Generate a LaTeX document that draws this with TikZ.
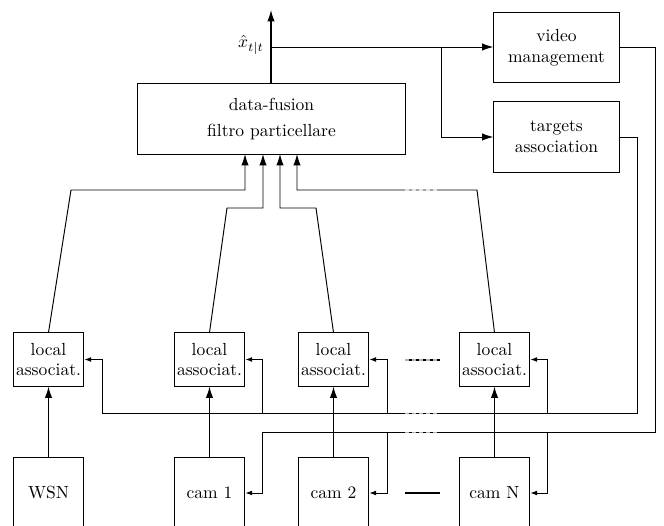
\documentclass[tikz,border=0pt]{standalone}
\usetikzlibrary{arrows.meta}
\begin{document}
\begin{tikzpicture}[x=0.571pt,y=-0.571pt,
  box/.style={draw,line width=0.55pt,inner sep=0pt,align=center,font=\fontsize{10}{12}\selectfont},
  bigbox/.style={box,minimum width=71.4pt,minimum height=40pt},
  fbox/.style={box,minimum width=152.5pt,minimum height=40pt},
  lbox/.style={box,minimum width=40.5pt,minimum height=30.3pt},
  sbox/.style={box,minimum width=40.5pt,minimum height=41.1pt},
  conn/.style={line width=0.55pt},
  bigarr/.style={line width=0.7pt,-{Latex[length=6.5pt,width=4.2pt]}},
  upin/.style={line width=0.55pt,-{Latex[length=6.5pt,width=4.2pt]}},
  smallarr/.style={line width=0.55pt,-{Latex[length=3.8pt,width=2.8pt]}},
  gapmark/.style={draw=white,line width=0.6pt,dash pattern=on 2pt off 2pt,opacity=0.7}]
\useasboundingbox (0,0) rectangle (664,526);
\clip (0,0) rectangle (664,526);
% main boxes
\node[fbox] (fus) at (271.5,119) {data-fusion\\[3pt]filtro particellare};
\node[bigbox] (vid) at (556.5,47.5) {video\\management};
\node[bigbox] (tgt) at (556.5,137) {targets\\association};
% local association boxes
\node[lbox] (lW) at (48.5,359.5) {local\\[-1pt]associat.};
\node[lbox] (l1) at (209.5,359.5) {local\\[-1pt]associat.};
\node[lbox] (l2) at (333.5,359.5) {local\\[-1pt]associat.};
\node[lbox] (lN) at (494.5,359.5) {local\\[-1pt]associat.};
% sensors
\node[sbox] (wsn) at (48.5,493) {WSN};
\node[sbox] (c1) at (209.5,493) {cam 1};
\node[sbox] (c2) at (333.5,493) {cam 2};
\node[sbox] (cN) at (494.5,493) {cam N};
% output of fusion
\coordinate (top) at (271,10);
\coordinate (out) at (271,47);
\coordinate (br) at (441,47);
\draw[bigarr] (fus.north -| out) -- (top);
\node[font=\fontsize{10}{12}\selectfont] (xl) at (251,45) {$\hat{x}_{t|t}$};
\draw[upin] (out) -- (out -| vid.west);
\draw[upin] (br) |- (tgt.west);
% inputs to fusion
\coordinate (fa) at (245,154); \coordinate (fb) at (263,154);
\coordinate (fc) at (280,154); \coordinate (fd) at (297,154);
\coordinate (wa) at (71,190); \coordinate (ca) at (227,208);
\coordinate (cb) at (316,208); \coordinate (cc) at (477,190);
\draw[upin] (lW.north) -- (wa) -- (wa -| fa) -- (fa);
\draw[upin] (l1.north) -- (ca) -- (ca -| fb) -- (fb);
\draw[upin] (l2.north) -- (cb) -- (cb -| fc) -- (fc);
\draw[upin] (lN.north) -- (cc) -- (cc -| fd) -- (fd);
% sensors to local association
\draw[bigarr] (wsn) -- (lW);
\draw[bigarr] (c1) -- (l1);
\draw[bigarr] (c2) -- (l2);
\draw[bigarr] (cN) -- (lN);
% feedback from targets association
\coordinate (ta) at (637,137); \coordinate (tb) at (637,413);
\coordinate (tw) at (102,413); \coordinate (t1) at (262,413);
\coordinate (t2) at (387,413); \coordinate (tN) at (547,413);
\draw[conn] (tgt.east) -- (ta) -- (tb) -- (tw);
\draw[smallarr] (tw) |- (lW.east);
\draw[smallarr] (t1) |- (l1.east);
\draw[smallarr] (t2) |- (l2.east);
\draw[smallarr] (tN) |- (lN.east);
% feedback from video management
\coordinate (va) at (655,47.5); \coordinate (vb) at (655,432);
\coordinate (v1) at (262,432); \coordinate (v2) at (387,432);
\coordinate (vN) at (547,432);
\draw[conn] (vid.east) -- (va) -- (vb) -- (v1);
\draw[smallarr] (v1) |- (c1.east);
\draw[smallarr] (v2) |- (c2.east);
\draw[smallarr] (vN) |- (cN.east);
% ellipsis marks
\coordinate (ga) at (405,360); \coordinate (gb) at (440,360);
\coordinate (gc) at (405,493); \coordinate (gd) at (440,493);
\draw[line width=0.6pt] (ga) -- (gb);
\draw[line width=0.6pt] (gc) -- (gd);
\draw[gapmark] (405,190) -- (438,190);
\draw[gapmark] (ga) -- (gb);
\draw[gapmark] (405,413) -- (440,413);
\draw[gapmark] (405,432) -- (440,432);
\end{tikzpicture}
\end{document}
